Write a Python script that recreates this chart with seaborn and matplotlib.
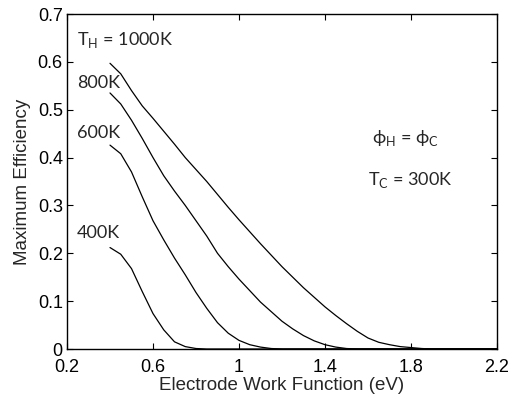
import matplotlib
matplotlib.use("Agg")
import matplotlib.pyplot as plt
import seaborn as sns
import pandas as pd

work_function = [0.40, 0.45, 0.50, 0.55, 0.60, 0.65, 0.70, 0.75, 0.80, 0.85,
                 0.90, 0.95, 1.00, 1.05, 1.10, 1.15, 1.20, 1.25, 1.30, 1.35,
                 1.40, 1.45, 1.50, 1.55, 1.60, 1.65, 1.70, 1.75, 1.80, 1.85,
                 1.90, 2.20]

eff_400 = [0.212, 0.198, 0.168, 0.120, 0.074, 0.040, 0.015, 0.005, 0.001, 0.0,
           0.0, 0.0, 0.0, 0.0, 0.0, 0.0, 0.0, 0.0, 0.0, 0.0,
           0.0, 0.0, 0.0, 0.0, 0.0, 0.0, 0.0, 0.0, 0.0, 0.0,
           0.0, 0.0]
eff_600 = [0.426, 0.408, 0.370, 0.318, 0.268, 0.228, 0.190, 0.155, 0.118, 0.085,
           0.055, 0.033, 0.018, 0.009, 0.004, 0.001, 0.0, 0.0, 0.0, 0.0,
           0.0, 0.0, 0.0, 0.0, 0.0, 0.0, 0.0, 0.0, 0.0, 0.0,
           0.0, 0.0]
eff_800 = [0.535, 0.512, 0.478, 0.440, 0.400, 0.362, 0.330, 0.300, 0.268, 0.236,
           0.200, 0.172, 0.146, 0.122, 0.098, 0.078, 0.058, 0.042, 0.028, 0.017,
           0.009, 0.004, 0.001, 0.0, 0.0, 0.0, 0.0, 0.0, 0.0, 0.0,
           0.0, 0.0]
eff_1000 = [0.597, 0.575, 0.540, 0.508, 0.482, 0.455, 0.428, 0.400, 0.375, 0.350,
            0.323, 0.296, 0.270, 0.245, 0.220, 0.196, 0.172, 0.150, 0.128, 0.108,
            0.088, 0.070, 0.053, 0.037, 0.023, 0.014, 0.009, 0.005, 0.003, 0.001,
            0.0, 0.0]

series = {"400K": eff_400, "600K": eff_600, "800K": eff_800, "1000K": eff_1000}
rows = []
for name, vals in series.items():
    for x, y in zip(work_function, vals):
        rows.append({"wf": x, "eff": y, "TH": name})
df = pd.DataFrame(rows)

x_ticks = [0.2, 0.6, 1.0, 1.4, 1.8, 2.2]
x_tick_labels = ["0.2", "0.6", "1", "1.4", "1.8", "2.2"]
y_ticks = [0, 0.1, 0.2, 0.3, 0.4, 0.5, 0.6, 0.7]
y_tick_labels = ["0", "0.1", "0.2", "0.3", "0.4", "0.5", "0.6", "0.7"]

sns.set_style("ticks")
plt.rcParams["font.family"] = ["Liberation Sans", "DejaVu Sans"]

fig = plt.figure(figsize=(5.16, 3.99), dpi=100)
ax = fig.add_axes([67 / 516, 50 / 399, 430 / 516, 335 / 399])

sns.lineplot(data=df, x="wf", y="eff", units="TH", estimator=None,
             color="black", linewidth=0.9, ax=ax, legend=False)

ax.set_xlim(0.2, 2.2)
ax.set_ylim(0, 0.7)
ax.set_xticks(x_ticks)
ax.set_xticklabels(x_tick_labels)
ax.set_yticks(y_ticks)
ax.set_yticklabels(y_tick_labels)
ax.tick_params(direction="in", length=4, width=0.8, top=True, right=True,
               labelsize=13, colors="black")
ax.tick_params(axis="x", pad=7)
ax.tick_params(axis="y", pad=3)
for s in ax.spines.values():
    s.set_visible(True)
    s.set_linewidth(1.0)
    s.set_color("black")
ax.set_xlabel("Electrode Work Function (eV)", fontsize=13.5, labelpad=1)
ax.set_ylabel("Maximum Efficiency", fontsize=13.5, labelpad=5)

lab_font = ["Lato", "DejaVu Sans"]
fs = 13
ax.text(0.247, 0.646, r"T$_\mathregular{H}$ = 1000K", fontsize=fs, family=lab_font, va="center", ha="left")
ax.text(0.247, 0.556, "800K", fontsize=fs, family=lab_font, va="center", ha="left")
ax.text(0.247, 0.451, "600K", fontsize=fs, family=lab_font, va="center", ha="left")
ax.text(0.247, 0.242, "400K", fontsize=fs, family=lab_font, va="center", ha="left")
ax.text(1.617, 0.441, r"ϕ$_\mathregular{H}$ = ϕ$_\mathregular{C}$", fontsize=fs, family=lab_font, va="center", ha="left")
ax.text(1.60, 0.353, r"T$_\mathregular{C}$ = 300K", fontsize=fs, family=lab_font, va="center", ha="left")

fig.savefig("out.png", dpi=100)
